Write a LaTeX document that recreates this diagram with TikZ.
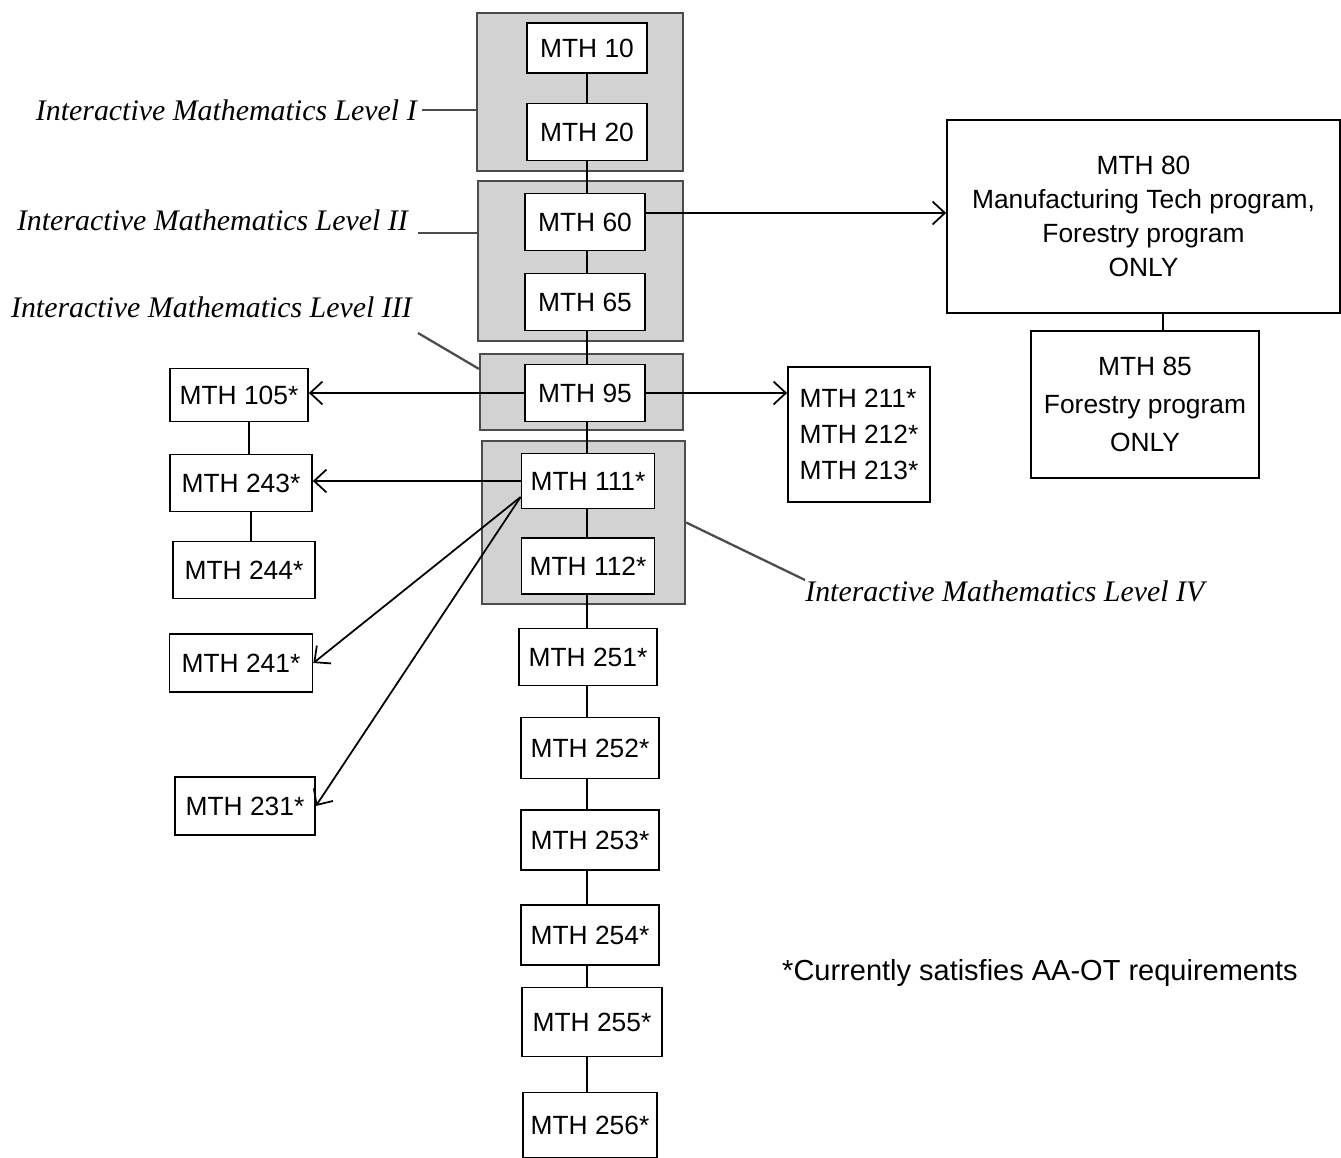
\documentclass[tikz,border=0pt]{standalone}
\usepackage{fontspec}
\setmainfont{Liberation Sans}
\newfontfamily\levelfont{Liberation Serif}
\usetikzlibrary{arrows.meta}
\tikzset{
course/.style={draw, fill=white, line width=1pt, minimum width=2.4cm,
    minimum height=1.14cm, inner sep=2pt, font=\fontsize{15}{18}\selectfont},
starred/.style={course, minimum width=2.8cm},
level/.style={draw=black!70, fill=gray!35, line width=1.3pt, inner sep=0pt},
levellabel/.style={font=\levelfont\itshape\fontsize{17}{20}\selectfont, inner sep=0pt},
leader/.style={draw=black!70, line width=1.3pt},
link/.style={line width=1pt},
prereq/.style={line width=1pt, -{Straight Barb[length=7pt, width=13pt]}}
}

\begin{document}
\begin{tikzpicture}[x=0.02cm, y=-0.02cm]
	\useasboundingbox (0,0) rectangle (1341,1158);

	\node[level, minimum width=4.12cm, minimum height=3.16cm] (lev1) at (580,92) {};
	\node[level, minimum width=4.1cm, minimum height=3.2cm] (lev2) at (580.5,261) {};
	\node[level, minimum width=4.06cm, minimum height=1.52cm] (lev3) at (581.5,392) {};
	\node[level, minimum width=4.06cm, minimum height=3.26cm] (lev4) at (583.5,522.5) {};

	\node[course, minimum height=1cm] (m10) at (587,48) {MTH 10};
	\node[course] (m20) at (587,132) {MTH 20};
	\node[course] (m60) at (585,222) {MTH 60};
	\node[course] (m65) at (585,302) {MTH 65};
	\node[course] (m95) at (585,393) {MTH 95};
	\node[starred, minimum width=2.66cm, minimum height=1.1cm] (m111) at (588,481) {MTH 111*};
	\node[starred, minimum width=2.66cm, minimum height=1.12cm] (m112) at (588,566) {MTH 112*};
	\node[starred, minimum width=2.76cm] (m251) at (588,657) {MTH 251*};
	\node[starred, minimum width=2.76cm, minimum height=1.22cm] (m252) at (590,748) {MTH 252*};
	\node[starred, minimum width=2.76cm, minimum height=1.2cm] (m253) at (590,840) {MTH 253*};
	\node[starred, minimum width=2.76cm, minimum height=1.2cm] (m254) at (590,935) {MTH 254*};
	\node[starred, minimum height=1.38cm] (m255) at (592,1022) {MTH 255*};
	\node[starred, minimum width=2.68cm, minimum height=1.3cm] (m256) at (590,1125) {MTH 256*};

	\node[starred, minimum width=2.76cm, minimum height=1.06cm] (m105) at (239,395) {MTH 105*};
	\node[starred, minimum width=2.84cm] (m243) at (241,483) {MTH 243*};
	\node[starred, minimum width=2.84cm] (m244) at (244,570) {MTH 244*};
	\node[starred, minimum width=2.86cm, minimum height=1.16cm] (m241) at (241,663) {MTH 241*};
	\node[starred, minimum width=2.8cm, minimum height=1.16cm] (m231) at (245,806) {MTH 231*};

	\node[course, minimum width=2.84cm, minimum height=2.7cm, align=left,
		font=\fontsize{15}{20.4}\selectfont] (m21x) at (859,434.5)
		{MTH 211*\\MTH 212*\\MTH 213*};
	\node[course, minimum width=7.86cm, minimum height=3.86cm, align=center,
		font=\fontsize{15}{19.3}\selectfont] (m80) at (1143.5,216.5)
		{MTH 80\\Manufacturing Tech program,\\Forestry program\\ONLY};
	\node[course, minimum width=4.56cm, minimum height=2.94cm, align=center,
		font=\fontsize{15}{21.5}\selectfont] (m85) at (1145,404.5)
		{MTH 85\\Forestry program\\ONLY};

	\node[levellabel, anchor=east] (lab1) at (417,110) {Interactive Mathematics Level I};
	\node[levellabel, anchor=east] (lab2) at (408,220) {Interactive Mathematics Level II};
	\node[levellabel, anchor=east] (lab3) at (412,307) {Interactive Mathematics Level III};
	\node[levellabel, anchor=west] (lab4) at (805,591) {Interactive Mathematics Level IV};

	\node[font=\fontsize{16.5}{20}\selectfont, inner sep=0pt] (note) at (1040,973)
		{*Currently satisfies AA-OT requirements};

	\foreach \a/\b in {m10/m20, m20/m60, m60/m65, m65/m95, m95/m111, m111/m112,
		m112/m251, m251/m252, m252/m253, m253/m254, m254/m255, m255/m256}
		\draw[link] (\b.north -| m10.south) -- (\a.south -| m10.south);
	\draw[link] ([xshift=0.2cm]m105.south) -- ([xshift=0.2cm]m105.south |- m243.north);
	\draw[link] ([xshift=0.2cm]m243.south) -- ([xshift=0.2cm]m243.south |- m244.north);
	\draw[link] ([xshift=0.36cm]m85.north) -- ([xshift=0.36cm]m85.north |- m80.south);

	\draw[prereq] ([yshift=0.18cm]m60.east) -- ([yshift=0.18cm]m60.east -| m80.west);
	\draw[prereq] (m95.east) -- (m95.east -| m21x.west);
	\draw[prereq] (m95.west) -- (m95.west -| m105.east);
	\draw[prereq] (m111.west) -- (m111.west -| m243.east);
	\coordinate (m111low) at ([yshift=-0.32cm]m111.west);
	\draw[prereq] (m111low) -- (m241.east);
	\draw[prereq] (m111low) -- (m231.east);

	\draw[leader] ([xshift=0.1cm]lab1.east) -- (lab1.east -| lev1.west);
	\draw[leader] ([xshift=0.2cm,yshift=-0.26cm]lab2.east) -- ([yshift=-0.26cm]lab2.east -| lev2.west);
	\draw[leader] ([xshift=0.12cm,yshift=-0.52cm]lab3.east) -- ([yshift=-0.32cm]lev3.north west);
	\draw[leader] (lev4.east) -- ([yshift=0.22cm]lab4.west);
\end{tikzpicture}
\end{document}
